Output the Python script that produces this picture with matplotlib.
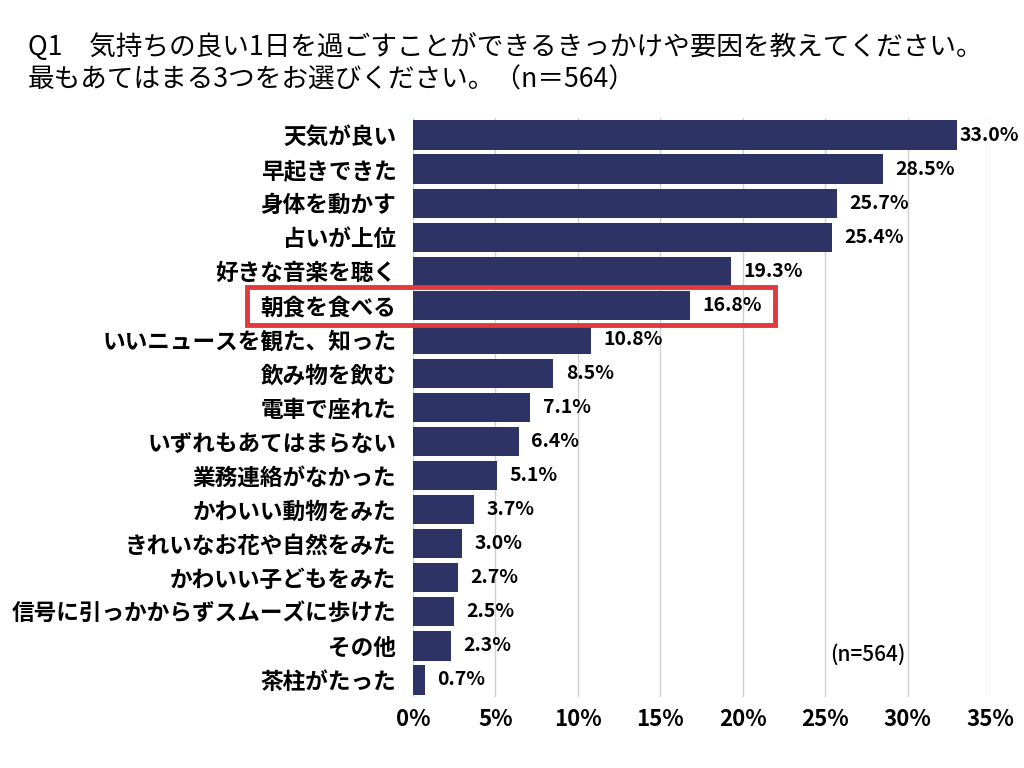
import matplotlib.pyplot as plt
from matplotlib.patches import Rectangle

plt.rcParams['font.family'] = ['Noto Sans CJK JP', 'DejaVu Sans']

labels = ["天気が良い", "早起きできた", "身体を動かす", "占いが上位", "好きな音楽を聴く",
          "朝食を食べる", "いいニュースを観た、知った", "飲み物を飲む", "電車で座れた",
          "いずれもあてはまらない", "業務連絡がなかった", "かわいい動物をみた",
          "きれいなお花や自然をみた", "かわいい子どもをみた", "信号に引っかからずスムーズに歩けた",
          "その他", "茶柱がたった"]
values = [33.0, 28.5, 25.7, 25.4, 19.3, 16.8, 10.8, 8.5, 7.1, 6.4, 5.1, 3.7, 3.0, 2.7, 2.5, 2.3, 0.7]
xticks = [0, 5, 10, 15, 20, 25, 30, 35]

bar_color = "#2e3366"

fig = plt.figure(figsize=(10.24, 7.68), dpi=100)
ax = fig.add_axes([413 / 1024, 1 - 697 / 768, (990 - 413) / 1024, (697 - 118) / 768])

y = list(range(len(labels)))
ax.barh(y, values, height=0.86, color=bar_color, zorder=3)
ax.set_ylim(len(labels) - 0.5, -0.5)
ax.set_xlim(0, 35)
ax.set_xticks(xticks)
ax.set_xticklabels([f"{t}%" for t in xticks], fontsize=16, fontweight='bold')
ax.set_yticks(y)
ax.set_yticklabels(labels, fontsize=16.3, fontweight='bold')
ax.tick_params(length=0, pad=12)
ax.tick_params(axis='x', pad=8)
ax.grid(axis='x', color='#d0d0d0', linewidth=1, zorder=0)
for s in ax.spines.values():
    s.set_visible(False)

for i, v in enumerate(values):
    off = 2 if i == 0 else 9
    ax.annotate(f"{v:.1f}%", (v, i), xytext=(off, 0), textcoords='offset points',
                va='center', ha='left', fontsize=14, fontweight='bold', zorder=4)

# highlight box around one row
fig.patches.append(Rectangle((247 / 1024, 1 - 325 / 768), (775 - 247) / 1024, (325 - 287) / 768,
                             transform=fig.transFigure, fill=False, edgecolor='#e0393e',
                             linewidth=3.5, zorder=10))

ax.text(830 / 1024, 1 - 655 / 768, "(n=564)", transform=fig.transFigure, fontsize=15,
        fontweight='medium', ha='left', va='center')

fig.text(28 / 1024, 1 - 47 / 768, "Q1　気持ちの良い1日を過ごすことができるきっかけや要因を教えてください。",
         fontsize=19.2, va='center', ha='left')
fig.text(28 / 1024, 1 - 80 / 768, "最もあてはまる3つをお選びください。（n＝564）",
         fontsize=19.2, va='center', ha='left')

fig.savefig("out.png", dpi=100)
